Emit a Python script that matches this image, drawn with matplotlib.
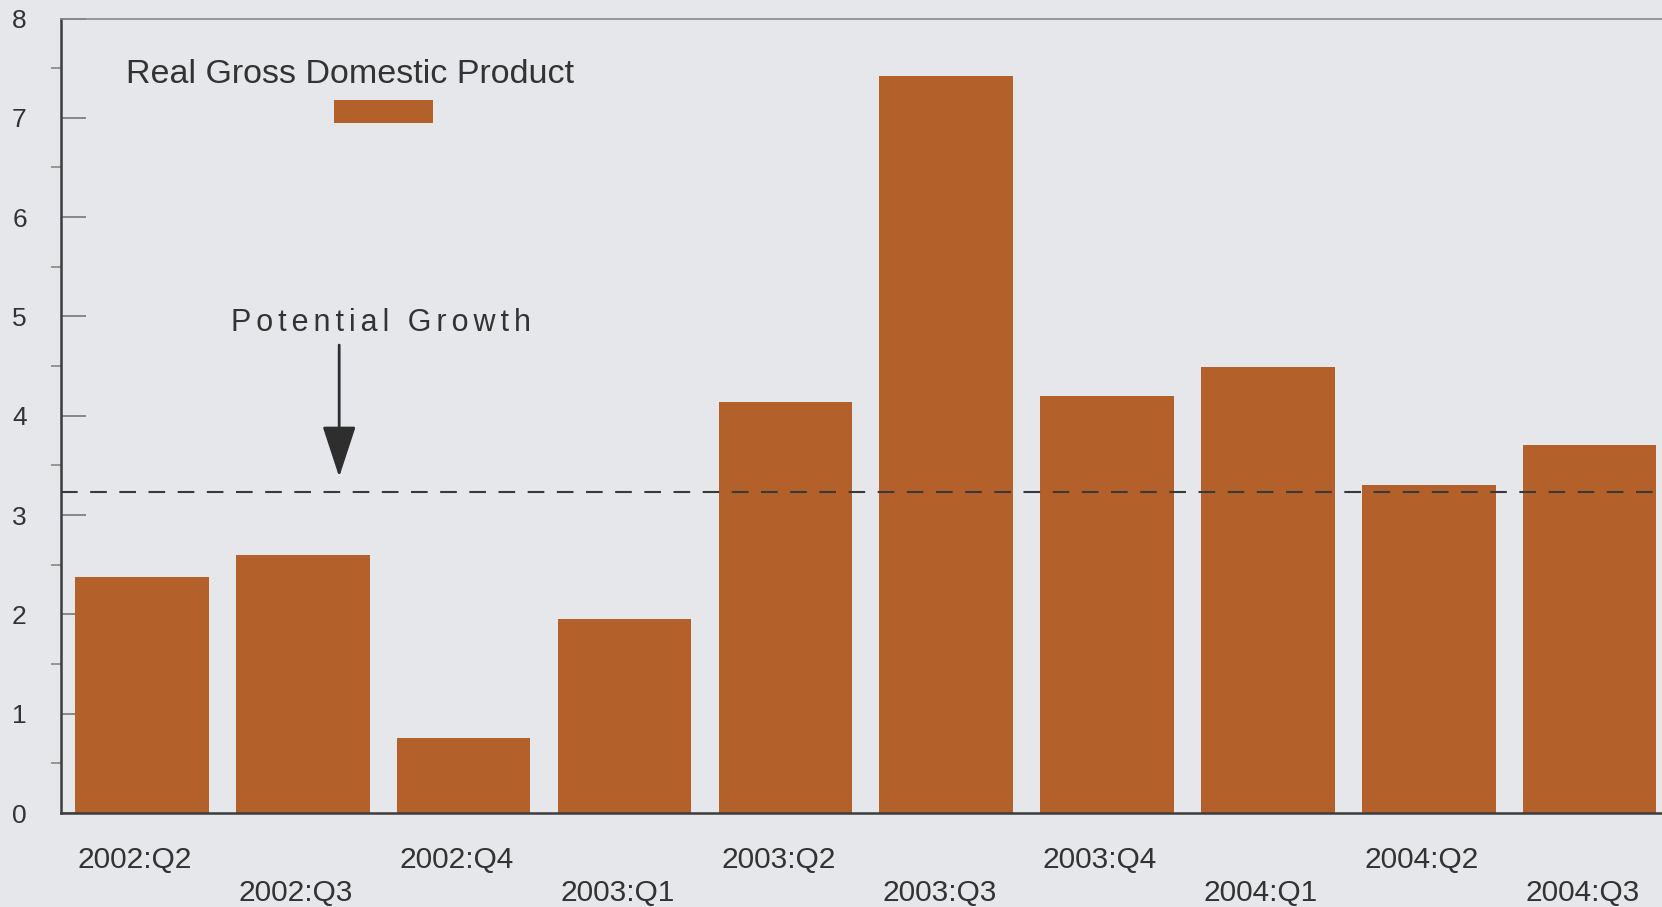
import matplotlib
matplotlib.use("Agg")
import matplotlib.pyplot as plt
from matplotlib.patches import Rectangle
from matplotlib.transforms import ScaledTranslation

plt.rcParams['font.family'] = ['Liberation Sans', 'DejaVu Sans']

# data
quarters = ['2002:Q2', '2002:Q3', '2002:Q4', '2003:Q1', '2003:Q2',
            '2003:Q3', '2003:Q4', '2004:Q1', '2004:Q2', '2004:Q3']
gdp_growth = [2.38, 2.60, 0.76, 1.95, 4.14, 7.42, 4.20, 4.49, 3.30, 3.71]
potential_growth = 3.23

bg = '#e5e7ea'
bar_color = '#b3602b'
ink = '#333333'

fig = plt.figure(figsize=(16.62, 9.07), dpi=100, facecolor=bg)
ax = fig.add_axes([0.037, 0.1036, 0.963, 0.876])
ax.set_facecolor(bg)

x = list(range(len(quarters)))
ax.bar(x, gdp_growth, width=0.83, color=bar_color, zorder=2)
ax.axhline(potential_growth, color='#3a3a3a', lw=1.5, ls=(0, (8, 6)), zorder=3)

ax.set_xlim(-0.5, 9.45)
ax.set_ylim(0, 8)

# alternate the quarter labels on two rows
labels = [q if i % 2 == 0 else '\n' + q for i, q in enumerate(quarters)]
ax.set_xticks(x)
ax.set_xticklabels(labels, fontsize=21.5, color=ink, linespacing=1.21)
ax.tick_params(axis='x', length=0, pad=24)
shift = ScaledTranslation(-0.07, 0, fig.dpi_scale_trans)
for lbl in ax.get_xticklabels():
    lbl.set_transform(lbl.get_transform() + shift)

ax.set_yticks(range(0, 9))
ax.set_yticks([i + 0.5 for i in range(8)], minor=True)
ax.tick_params(axis='y', which='major', direction='in', length=18,
               width=1.2, color='#777777', labelsize=19, labelcolor=ink, pad=25)
ax.tick_params(axis='y', which='minor', direction='out', length=7,
               width=1.2, color='#888888')

for side in ['left', 'bottom']:
    ax.spines[side].set_color('#3c3c3c')
    ax.spines[side].set_linewidth(1.8)
ax.spines['top'].set_color('#8a8a8a')
ax.spines['top'].set_linewidth(1.2)
ax.spines['right'].set_visible(False)

# legend drawn by hand: label above the swatch
ax.text(0.0400, 0.930, 'Real Gross Domestic Product', transform=ax.transAxes,
        fontsize=24.5, color=ink, va='center', ha='left')
ax.add_patch(Rectangle((0.170, 0.869), 0.062, 0.028, transform=ax.transAxes,
                       facecolor=bar_color, edgecolor='none', zorder=4))

# potential growth note with arrow (letter-spaced like the original)
spaced = '\u200a\u200a'.join('Potential Growth')
ax.text(0.106, 0.617, spaced, transform=ax.transAxes,
        fontsize=22, color=ink, va='center', ha='left')
ax.annotate('', xy=(0.1735, 0.423), xytext=(0.1735, 0.589),
            xycoords='axes fraction', textcoords='axes fraction',
            arrowprops=dict(arrowstyle='-|>,head_length=3.2,head_width=1.05',
                            color='#2e2e2e', lw=2, shrinkA=0, shrinkB=0))

fig.savefig('out.png', dpi=100, facecolor=bg)
